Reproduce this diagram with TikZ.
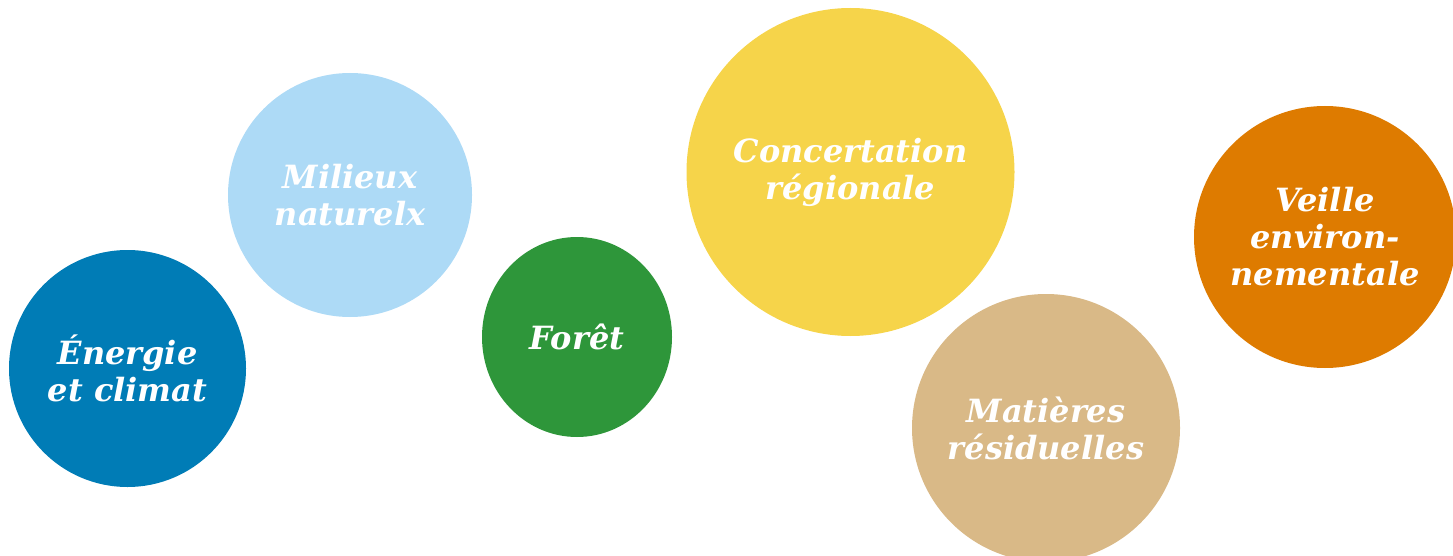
\documentclass[tikz,border=0pt]{standalone}
\usepackage{fontspec}
\setmainfont{DejaVu Serif}
\usepackage{tikz}
\usetikzlibrary{shapes.geometric}

\definecolor{bleu}{HTML}{007CB6}
\definecolor{ciel}{HTML}{ADDAF6}
\definecolor{vert}{HTML}{2E963A}
\definecolor{jaune}{HTML}{F6D44A}
\definecolor{sable}{HTML}{D9B987}
\definecolor{orange}{HTML}{DE7B00}

\tikzset{
	bulle/.style={circle, inner sep=0pt, text=white, align=center,
		font=\fontsize{32}{37}\selectfont\bfseries\itshape},
}

\begin{document}
\begin{tikzpicture}[x=1pt, y=-1pt]
		%%%%% START %%%%%
		
		\useasboundingbox (0, 0) rectangle (1453, 556);
		\clip (0, 0) rectangle (1453, 556);
		
		\node[bulle, fill=bleu, minimum size=237] (energie) at (127.5, 368.5) {Énergie\\et climat};
		\node[bulle, fill=ciel, minimum size=244] (milieux) at (350, 195) {Milieux\\naturelx};
		\node[bulle, ellipse, fill=vert, minimum width=190, minimum height=200] (foret) at (577, 337) {Forêt};
		\node[bulle, fill=jaune, minimum size=328] (concertation) at (850.5, 172) {Concertation\\régionale};
		\node[bulle, fill=sable, minimum size=268] (matieres) at (1046, 428) {Matières\\résiduelles};
		\node[bulle, fill=orange, minimum size=262] (veille) at (1325, 237) {Veille\\environ-\\nementale};
		
		%%%%% END %%%%%
	\end{tikzpicture}
\end{document}
